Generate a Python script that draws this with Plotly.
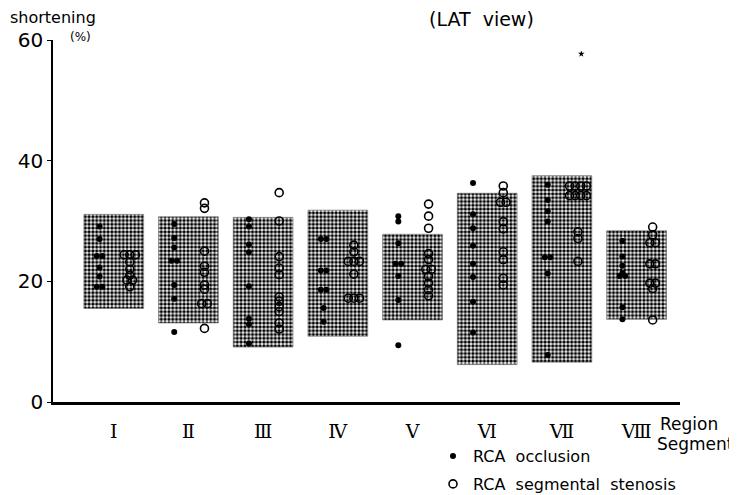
import plotly.graph_objects as go
from collections import Counter

segments = ["Ⅰ", "Ⅱ", "Ⅲ", "Ⅳ", "Ⅴ", "Ⅵ", "Ⅶ", "Ⅷ"]

# normal range boxes (shaded)
range_low = [15.5, 13.1, 9.1, 10.9, 13.6, 6.2, 6.6, 13.7]
range_high = [31.1, 30.7, 30.6, 31.8, 27.8, 34.6, 37.5, 28.4]

# RCA occlusion (filled dots)
occlusion = [
    [29.1, 27.0, 24.2, 24.2, 22.3, 20.8, 19.1, 19.1],
    [29.5, 27.2, 25.6, 23.4, 23.4, 19.4, 17.1, 11.6],
    [30.3, 29.1, 26.1, 24.8, 19.2, 13.8, 12.9, 9.7],
    [27.0, 27.0, 21.8, 21.8, 18.6, 18.6, 15.6, 13.3],
    [30.8, 29.9, 26.3, 22.9, 22.9, 20.9, 16.9, 9.4],
    [36.3, 31.1, 28.8, 25.9, 22.9, 20.7, 16.6, 11.5],
    [36.0, 33.5, 31.6, 29.9, 24.0, 24.0, 21.3, 7.8],
    [26.7, 24.1, 22.6, 21.4, 20.9, 20.9, 15.7, 13.7],
]

# RCA segmental stenosis (open circles)
stenosis = [
    [24.4, 24.4, 24.4, 23.2, 22.0, 21.0, 20.2, 20.2, 19.1],
    [33.0, 32.1, 25.0, 22.5, 21.5, 19.4, 18.7, 16.3, 16.3, 12.2],
    [34.7, 30.0, 24.1, 22.2, 21.1, 17.4, 16.7, 15.8, 15.0, 13.1, 12.1],
    [26.0, 24.9, 23.3, 23.3, 23.3, 21.2, 17.2, 17.2, 17.2],
    [32.8, 30.8, 28.8, 24.6, 23.6, 22.0, 22.0, 20.8, 19.7, 18.6, 17.6],
    [35.8, 34.7, 33.1, 33.1, 29.9, 28.7, 24.9, 23.6, 20.5, 19.4],
    [35.8, 35.8, 35.8, 35.8, 34.2, 34.2, 34.2, 34.2, 28.2, 27.1, 23.3],
    [29.0, 27.7, 26.4, 26.4, 22.9, 22.9, 19.7, 19.7, 18.8, 13.6],
]

# isolated mark above segment VII
outlier_segment = [7]
outlier_value = [57.7]

pos = list(range(1, len(segments) + 1))

# page body has an 8px margin, so lay out in page pixels minus that offset
OFF = 8
W, H = 737, 495
L = 53 - OFF
T = 40 - OFF
R = W - (680 - OFF)
B = H - (402 - OFF)
pw, ph = W - L - R, H - T - B


def px_x(px):
    return (px - OFF - L) / pw


def px_y(py):
    return (H - B - (py - OFF)) / ph


def spread(groups, shift, step=0.075):
    xs, ys = [], []
    for p, vals in zip(pos, groups):
        cnt = Counter(vals)
        seen = Counter()
        for v in vals:
            n = cnt[v]
            k = seen[v]
            seen[v] += 1
            xs.append(p + shift + (k - (n - 1) / 2) * step)
            ys.append(v)
    return xs, ys


fig = go.Figure()

fig.add_trace(go.Bar(
    x=pos,
    y=[h - l for h, l in zip(range_high, range_low)],
    base=range_low,
    width=0.8,
    marker=dict(
        color="white",
        line=dict(color="#666", width=0.6),
        pattern=dict(shape=".", fgcolor="#000", bgcolor="white",
                     size=3.8, solidity=0.6, fillmode="replace"),
    ),
    showlegend=False,
    hoverinfo="skip",
))

ox, oy = spread(occlusion, -0.19)
fig.add_trace(go.Scatter(
    x=ox, y=oy, mode="markers", name="RCA  occlusion",
    marker=dict(symbol="circle", size=6, color="black"),
    legend="legend",
))

sx, sy = spread(stenosis, 0.215)
fig.add_trace(go.Scatter(
    x=sx, y=sy, mode="markers", name="RCA  segmental  stenosis",
    marker=dict(symbol="circle-open", size=8, color="black", line=dict(width=1.6)),
    legend="legend2",
))

fig.add_trace(go.Scatter(
    x=[p + 0.26 for p in outlier_segment], y=outlier_value, mode="markers",
    marker=dict(symbol="star", size=5, color="black"),
    showlegend=False,
))

sans = "DejaVu Sans, Liberation Sans, Arial, sans-serif"
legend_common = dict(
    xanchor="left", yanchor="middle",
    font=dict(size=16, family=sans), bgcolor="rgba(0,0,0,0)",
    itemsizing="trace",
)

fig.update_layout(
    width=W, height=H,
    margin=dict(l=L, r=R, t=T, b=B, autoexpand=False),
    paper_bgcolor="white", plot_bgcolor="white",
    font=dict(family=sans, color="black"),
    barmode="overlay",
    xaxis=dict(
        range=[0.187, 8.581], tickvals=pos, ticktext=segments,
        showline=True, linecolor="black", linewidth=2.5,
        showgrid=False, zeroline=False,
        ticks="outside", ticklen=10, tickcolor="rgba(0,0,0,0)",
        tickfont=dict(family="DejaVu Serif, Noto Serif CJK JP, Liberation Serif, serif", size=19),
    ),
    yaxis=dict(
        range=[0, 60], tickvals=[0, 20, 40, 60],
        showline=True, linecolor="black", linewidth=1.5,
        showgrid=False, zeroline=False,
        ticks="outside", ticklen=4, tickcolor="black",
        tickfont=dict(size=20, family=sans),
    ),
    legend=dict(x=px_x(433), y=px_y(456), **legend_common),
    legend2=dict(x=px_x(433), y=px_y(484), **legend_common),
)

fig.add_annotation(text="shortening", x=px_x(8), y=px_y(17), xanchor="left", yanchor="middle",
                   font=dict(size=16))
fig.add_annotation(text="(%)", x=px_x(80), y=px_y(37), xanchor="center", yanchor="middle",
                   font=dict(size=12))
fig.add_annotation(text="(LAT  view)", x=px_x(481), y=px_y(19), xanchor="center", yanchor="middle",
                   font=dict(size=19))
fig.add_annotation(text="Region", x=px_x(658), y=px_y(424), xanchor="left", yanchor="middle",
                   font=dict(size=17))
fig.add_annotation(text="Segment", x=px_x(655), y=px_y(444), xanchor="left", yanchor="middle",
                   font=dict(size=17))
for a in fig.layout.annotations:
    a.xref = "paper"
    a.yref = "paper"
    a.showarrow = False

fig.write_html("out.html")
